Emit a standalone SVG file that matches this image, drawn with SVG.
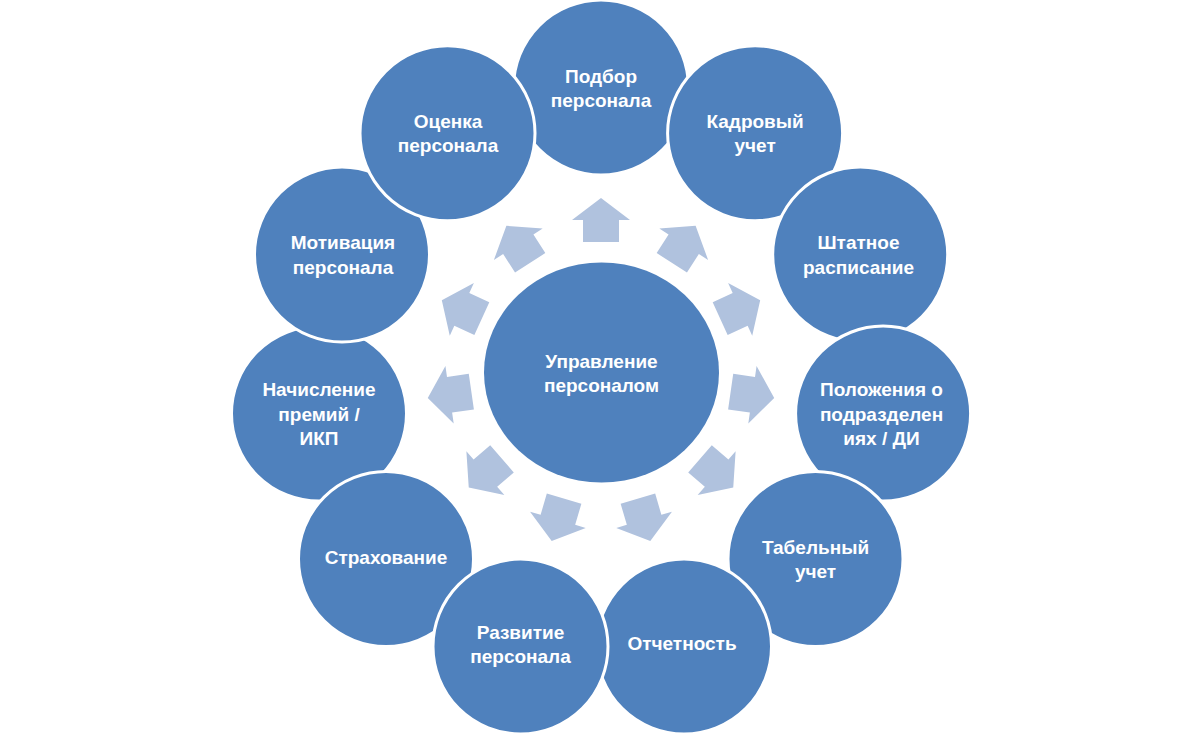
<svg xmlns="http://www.w3.org/2000/svg" width="1200" height="734" viewBox="0 0 1200 734">
<style>
.n{fill:#4F81BD;stroke:#FFFFFF;stroke-width:3}
.c{fill:#4F81BD}
.t{fill:#FFFFFF;font-family:"Liberation Sans",Arial,sans-serif;font-weight:bold;font-size:19px;text-anchor:middle}
.a{fill:#B0C2DE}
</style>
<defs>
<path id="arr" d="M -18 22 L -18 0 L -29 0 L 0 -22 L 29 0 L 18 0 L 18 22 Z"/>
</defs>
<rect width="1200" height="734" fill="#FFFFFF"/>
<g id="connectors" class="a">
<use href="#arr" transform="translate(601 373) rotate(0) translate(0 -153)"/>
<use href="#arr" transform="translate(601 373) rotate(32.727) translate(0 -153)"/>
<use href="#arr" transform="translate(601 373) rotate(65.455) translate(0 -153)"/>
<use href="#arr" transform="translate(601 373) rotate(98.182) translate(0 -153)"/>
<use href="#arr" transform="translate(601 373) rotate(130.909) translate(0 -153)"/>
<use href="#arr" transform="translate(601 373) rotate(163.636) translate(0 -153)"/>
<use href="#arr" transform="translate(601 373) rotate(196.364) translate(0 -153)"/>
<use href="#arr" transform="translate(601 373) rotate(229.091) translate(0 -153)"/>
<use href="#arr" transform="translate(601 373) rotate(261.818) translate(0 -153)"/>
<use href="#arr" transform="translate(601 373) rotate(294.545) translate(0 -153)"/>
<use href="#arr" transform="translate(601 373) rotate(327.273) translate(0 -153)"/>
</g>
<g id="center">
<ellipse class="c" cx="601.5" cy="372.5" rx="117.5" ry="110"/>
<text class="t" x="601.5" y="367.5">Управление</text>
<text class="t" x="601.5" y="392">персоналом</text>
</g>
<g id="podbor">
<circle class="n" cx="601" cy="87.5" r="87.5"/>
<text class="t" x="601" y="82.6">Подбор</text>
<text class="t" x="601" y="107">персонала</text>
</g>
<g id="nachislenie">
<circle class="n" cx="319" cy="413.6" r="87.5"/>
<text class="t" x="319" y="396.2">Начисление</text>
<text class="t" x="319" y="420.6">премий /</text>
<text class="t" x="319" y="445">ИКП</text>
</g>
<g id="kadrovy">
<circle class="n" cx="755.1" cy="133.2" r="87.5"/>
<text class="t" x="755.1" y="127.8">Кадровый</text>
<text class="t" x="755.1" y="152.2">учет</text>
</g>
<g id="shtatnoe">
<circle class="n" cx="860.2" cy="254.6" r="87.5"/>
<text class="t" x="858.5" y="249.2">Штатное</text>
<text class="t" x="858.5" y="273.6">расписание</text>
</g>
<g id="polozheniya">
<circle class="n" cx="883.1" cy="413.6" r="87.5"/>
<text class="t" x="881.5" y="396.2">Положения о</text>
<text class="t" x="881.5" y="420.6">подразделен</text>
<text class="t" x="881.5" y="445">иях / ДИ</text>
</g>
<g id="tabelny">
<circle class="n" cx="815.5" cy="559" r="87.5"/>
<text class="t" x="815.5" y="553.6">Табельный</text>
<text class="t" x="815.5" y="578">учет</text>
</g>
<g id="otchetnost">
<circle class="n" cx="684" cy="646.5" r="87.5"/>
<text class="t" x="682" y="650">Отчетность</text>
</g>
<g id="strakhovanie">
<circle class="n" cx="386" cy="559" r="87.5"/>
<text class="t" x="386" y="563.6">Страхование</text>
</g>
<g id="razvitie">
<circle class="n" cx="520.5" cy="646.5" r="87.5"/>
<text class="t" x="520.5" y="639">Развитие</text>
<text class="t" x="520.5" y="663.4">персонала</text>
</g>
<g id="motivatsiya">
<circle class="n" cx="342" cy="254.6" r="87.5"/>
<text class="t" x="343" y="249.2">Мотивация</text>
<text class="t" x="343" y="273.6">персонала</text>
</g>
<g id="ocenka">
<circle class="n" cx="447.5" cy="133.2" r="87.5"/>
<text class="t" x="448" y="127.8">Оценка</text>
<text class="t" x="448" y="152.2">персонала</text>
</g>
</svg>
